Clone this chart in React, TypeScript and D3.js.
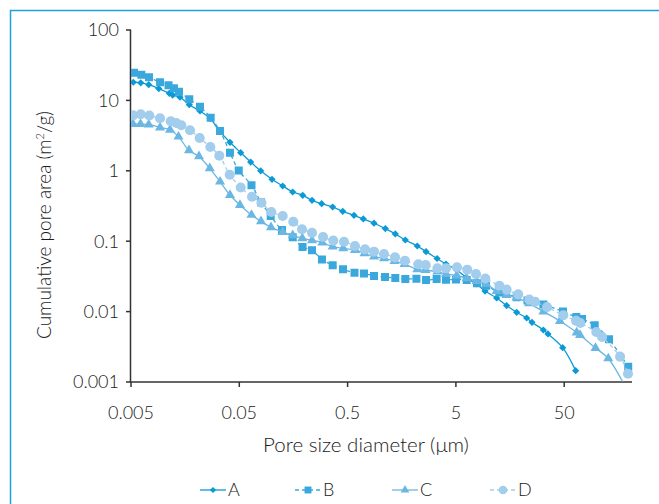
import React from "react";
import * as d3 from "d3";

const diameterA = [0.00525, 0.00615, 0.00729, 0.00902, 0.01129, 0.01213, 0.01418, 0.01727, 0.02168, 0.0268, 0.0327, 0.041, 0.0515, 0.0637, 0.0788, 0.1002, 0.1258, 0.1556, 0.1925, 0.2346, 0.288, 0.364, 0.451, 0.573, 0.698, 0.877, 1.115, 1.378, 1.706, 2.2, 2.65, 3.35, 4.05, 5.09, 6.2, 7.78, 9.29, 11.9, 14.7, 18.2, 22.5, 25.2, 32.1, 35.4, 48.4, 63.8];
const areaA = [18.1, 17.8, 16.7, 14.7, 12.6, 11.9, 11.1, 8.69, 7.07, 5.57, 3.72, 2.54, 1.81, 1.33, 1.0, 0.757, 0.608, 0.5, 0.449, 0.381, 0.341, 0.306, 0.266, 0.233, 0.207, 0.18, 0.151, 0.127, 0.104, 0.0855, 0.071, 0.0568, 0.0474, 0.039, 0.0307, 0.0247, 0.0196, 0.0156, 0.0122, 0.00977, 0.00811, 0.00705, 0.00548, 0.00481, 0.00307, 0.00145];

const diameterB = [0.00533, 0.00623, 0.00733, 0.00927, 0.0111, 0.01247, 0.01388, 0.01727, 0.02168, 0.0272, 0.0332, 0.041, 0.0494, 0.0648, 0.0793, 0.0975, 0.124, 0.1556, 0.1917, 0.2346, 0.29, 0.364, 0.4535, 0.579, 0.709, 0.877, 1.108, 1.378, 1.706, 2.16, 2.65, 3.32, 4.05, 5.01, 6.29, 7.83, 9.49, 12.6, 14.5, 18.2, 22.9, 32.1, 48.7, 64.7, 73.0, 95.6, 129.6, 195];
const areaB = [24.7, 23.2, 21.3, 18.1, 16.4, 14.9, 13.3, 10.4, 8.14, 5.66, 3.67, 1.81, 1.01, 0.625, 0.358, 0.228, 0.144, 0.114, 0.0827, 0.0743, 0.055, 0.0455, 0.0399, 0.0357, 0.0348, 0.0321, 0.031, 0.03, 0.029, 0.0293, 0.0281, 0.029, 0.0284, 0.0286, 0.0281, 0.0252, 0.0233, 0.0187, 0.0178, 0.016, 0.0144, 0.0126, 0.01, 0.00838, 0.00785, 0.00639, 0.00404, 0.00165];

const diameterC = [0.00522, 0.00612, 0.00729, 0.00927, 0.01146, 0.01373, 0.01716, 0.02122, 0.0267, 0.0332, 0.041, 0.0507, 0.0648, 0.0793, 0.0981, 0.1258, 0.1556, 0.1908, 0.2346, 0.292, 0.364, 0.456, 0.585, 0.716, 0.877, 1.084, 1.355, 1.677, 2.2, 2.62, 3.37, 4.05, 5.09, 6.29, 7.78, 9.49, 11.9, 14.7, 18.2, 23.7, 32.1, 45.7, 65.2, 70.0, 97.3, 127.7, 194];
const areaC = [4.62, 4.62, 4.55, 4.12, 3.83, 3.05, 1.95, 1.6, 1.085, 0.7, 0.453, 0.327, 0.236, 0.191, 0.157, 0.135, 0.121, 0.11, 0.103, 0.0958, 0.0835, 0.0793, 0.075, 0.0673, 0.0603, 0.0571, 0.0523, 0.0474, 0.0399, 0.039, 0.0369, 0.0342, 0.0326, 0.0297, 0.0272, 0.0247, 0.0196, 0.0172, 0.0158, 0.0131, 0.01, 0.00735, 0.00505, 0.00465, 0.00304, 0.00216, 0.00072];

const diameterD = [0.00522, 0.00615, 0.00738, 0.00927, 0.01163, 0.0131, 0.01457, 0.01753, 0.02154, 0.027, 0.0327, 0.0408, 0.0515, 0.0655, 0.0801, 0.0987, 0.1258, 0.1576, 0.1897, 0.2346, 0.2965, 0.369, 0.463, 0.585, 0.724, 0.877, 1.084, 1.37, 1.694, 2.25, 2.63, 3.37, 4.05, 5.12, 6.37, 7.67, 9.35, 12.6, 14.7, 18.8, 23.8, 26.9, 34.7, 49.0, 64.3, 70.4, 99, 112, 164, 194];
const areaD = [6.14, 6.35, 6.1, 5.57, 5.06, 4.78, 4.43, 3.76, 2.92, 2.18, 1.64, 0.88, 0.58, 0.428, 0.352, 0.26, 0.228, 0.189, 0.148, 0.132, 0.115, 0.102, 0.0984, 0.0855, 0.0767, 0.071, 0.0658, 0.059, 0.0528, 0.047, 0.0459, 0.0412, 0.0412, 0.0426, 0.0394, 0.0342, 0.0295, 0.0233, 0.0205, 0.0176, 0.0148, 0.0138, 0.0116, 0.00886, 0.0074, 0.00689, 0.00513, 0.00436, 0.00229, 0.00131];

const xTicks = [0.005, 0.05, 0.5, 5, 50];
const xTickLabels = ["0.005", "0.05", "0.5", "5", "50"];
const yTicks = [0.001, 0.01, 0.1, 1, 10, 100];
const yTickLabels = ["0.001", "0.01", "0.1", "1", "10", "100"];
const seriesNames = ["A", "B", "C", "D"];

const FONT = "Lato, 'Open Sans', sans-serif";
const TEXT = "#1a1a1a";

const styles = [
  { color: "#0c9ad6", dash: null as string | null, shape: "diamond" },
  { color: "#3aa8dc", dash: "4 3", shape: "square" },
  { color: "#6bb7e3", dash: null, shape: "triangle" },
  { color: "#a2cdec", dash: "4 3", shape: "circle" },
];

function markerPath(shape: string, legend = false): string {
  const k = legend ? 0.75 : 1;
  if (shape === "diamond") return d3.symbol(d3.symbolSquare, 26 * k)()!;
  if (shape === "square") return d3.symbol(d3.symbolSquare, 64 * k)()!;
  if (shape === "triangle") return d3.symbol(d3.symbolTriangle, 44 * k)()!;
  return d3.symbol(d3.symbolCircle, 80 * k)()!;
}

export default function App() {
  const W = 659, H = 504;
  const x = d3.scaleLog().domain([0.005, 210]).range([131, 631.7]);
  const y = d3.scaleLog().domain([0.001, 100]).range([382, 30]);

  const data = [
    d3.zip(diameterA, areaA),
    d3.zip(diameterB, areaB),
    d3.zip(diameterC, areaC),
    d3.zip(diameterD, areaD),
  ];

  const line = d3
    .line<number[]>()
    .x((d) => x(d[0]))
    .y((d) => y(d[1]))
    .curve(d3.curveCatmullRom.alpha(0.5));

  const legendX = [200, 295, 392, 490];
  const legendY = 490;

  return (
    <svg
      width={W}
      height={H}
      style={{ position: "absolute", left: 0, top: 0, background: "#fff" }}
      fontFamily={FONT}
    >
      <defs>
        <clipPath id="plotclip">
          <rect x={131} y={20} width={510} height={361.5} />
        </clipPath>
      </defs>
      <rect x={10.5} y={10.5} width={700} height={600} fill="none" stroke="#1ba3dd" strokeWidth={1.5} />

      {/* axes */}
      <line x1={130.5} x2={130.5} y1={30} y2={382} stroke="#333" strokeWidth={1.5} />
      <line x1={130} x2={632} y1={382} y2={382} stroke="#333" strokeWidth={1.5} />
      {yTicks.map((t, i) => (
        <g key={"y" + i}>
          <line x1={126} x2={131} y1={y(t)} y2={y(t)} stroke="#333" strokeWidth={1.5} />
          <text x={119} y={y(t)} dy="0.35em" textAnchor="end" fontSize={18} fontWeight={300} fill={TEXT}>
            {yTickLabels[i]}
          </text>
        </g>
      ))}
      {xTicks.map((t, i) => (
        <g key={"x" + i}>
          <line x1={x(t)} x2={x(t)} y1={382} y2={387} stroke="#333" strokeWidth={1.5} />
          <text x={x(t)} y={419} textAnchor="middle" fontSize={18} fontWeight={300} fill={TEXT}>
            {xTickLabels[i]}
          </text>
        </g>
      ))}

      <text x={366} y={452} textAnchor="middle" fontSize={20.5} fontWeight={300} fill={TEXT}>
        Pore size diameter (μm)
      </text>
      <text
        transform="translate(51,225) rotate(-90)"
        textAnchor="middle"
        fontSize={19}
        fontWeight={300}
        fill={TEXT}
      >
        Cumulative pore area (m<tspan dy="-7" fontSize={11}>2</tspan>
        <tspan dy="7">/g)</tspan>
      </text>

      {/* series */}
      <g clipPath="url(#plotclip)">
        {data.map((pts, si) => (
          <g key={"s" + si}>
            <path
              d={line(pts as number[][])!}
              fill="none"
              stroke={styles[si].color}
              strokeWidth={1.3}
              strokeDasharray={styles[si].dash ?? undefined}
            />
            {pts.map((p, j) => (
              <path
                key={j}
                d={markerPath(styles[si].shape)}
                transform={`translate(${x(p[0])},${y(p[1])})${styles[si].shape === "diamond" ? " rotate(45)" : ""}`}
                fill={styles[si].color}
              />
            ))}
          </g>
        ))}
      </g>

      {/* legend */}
      {seriesNames.map((name, i) => (
        <g key={"l" + i} transform={`translate(${legendX[i]},${legendY})`}>
          <line
            x1={0}
            x2={26}
            y1={0}
            y2={0}
            stroke={styles[i].color}
            strokeWidth={1.3}
            strokeDasharray={styles[i].dash ?? undefined}
          />
          <path
            d={markerPath(styles[i].shape, true)}
            transform={`translate(13,0)${styles[i].shape === "diamond" ? " rotate(45)" : ""}`}
            fill={styles[i].color}
          />
          <text x={28} y={0} dy="0.35em" fontSize={18} fontWeight={300} fill={TEXT}>
            {name}
          </text>
        </g>
      ))}
    </svg>
  );
}
